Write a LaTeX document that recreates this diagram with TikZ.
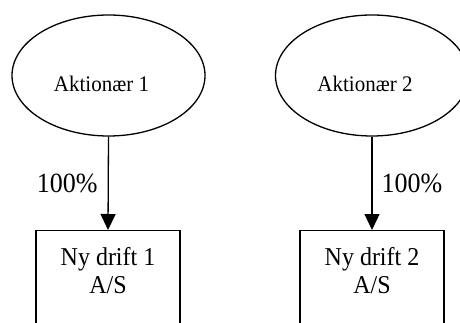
\documentclass[tikz,border=0pt]{standalone}
\usepackage{fontspec}
\setmainfont{Liberation Serif}
\usetikzlibrary{shapes.geometric,arrows.meta}
\begin{document}
\begin{tikzpicture}[x=1pt,y=-1pt,line width=1.3pt,
  owner/.style={ellipse,draw,minimum width=193pt,minimum height=121pt,inner sep=0pt,
    text height=32.4pt,text depth=0pt,font=\fontsize{21}{24}\selectfont},
  company/.style={rectangle,draw,minimum width=144pt,minimum height=130pt,anchor=north,inner sep=0pt},
  boxtext/.style={anchor=north,align=center,inner sep=0pt,font=\fontsize{24}{28}\selectfont,yshift=-17pt},
  share/.style={font=\fontsize{26}{30}\selectfont,inner sep=0pt},
  own/.style={-{Triangle[width=15pt,length=16pt]}}]
\useasboundingbox (0,0) rectangle (460,323);
\clip (0,0) rectangle (460,323);
\node[owner] (a1) at (108.5,75.5) {\hspace*{-14pt}\scalebox{1}[1.06]{Aktionær 1}};
\node[owner] (a2) at (372,75.5) {\hspace*{-14pt}\scalebox{1}[1.06]{Aktionær 2}};
\node[company,label={[boxtext,name=t1]north:\scalebox{1}[1.07]{Ny drift 1}\\\scalebox{1}[1.07]{A/S}}] (b1) at (108,230) {};
\node[company,label={[boxtext,name=t2]north:\scalebox{1}[1.07]{Ny drift 2}\\\scalebox{1}[1.07]{A/S}}] (b2) at (372,230) {};
\draw[own] (a1.south) -- node[share,left=10pt] {\scalebox{1}[1.07]{100\%}} (b1.north);
\draw[own] (a2.south) -- node[share,right=9pt] {\scalebox{1}[1.07]{100\%}} (b2.north);
\end{tikzpicture}
\end{document}
